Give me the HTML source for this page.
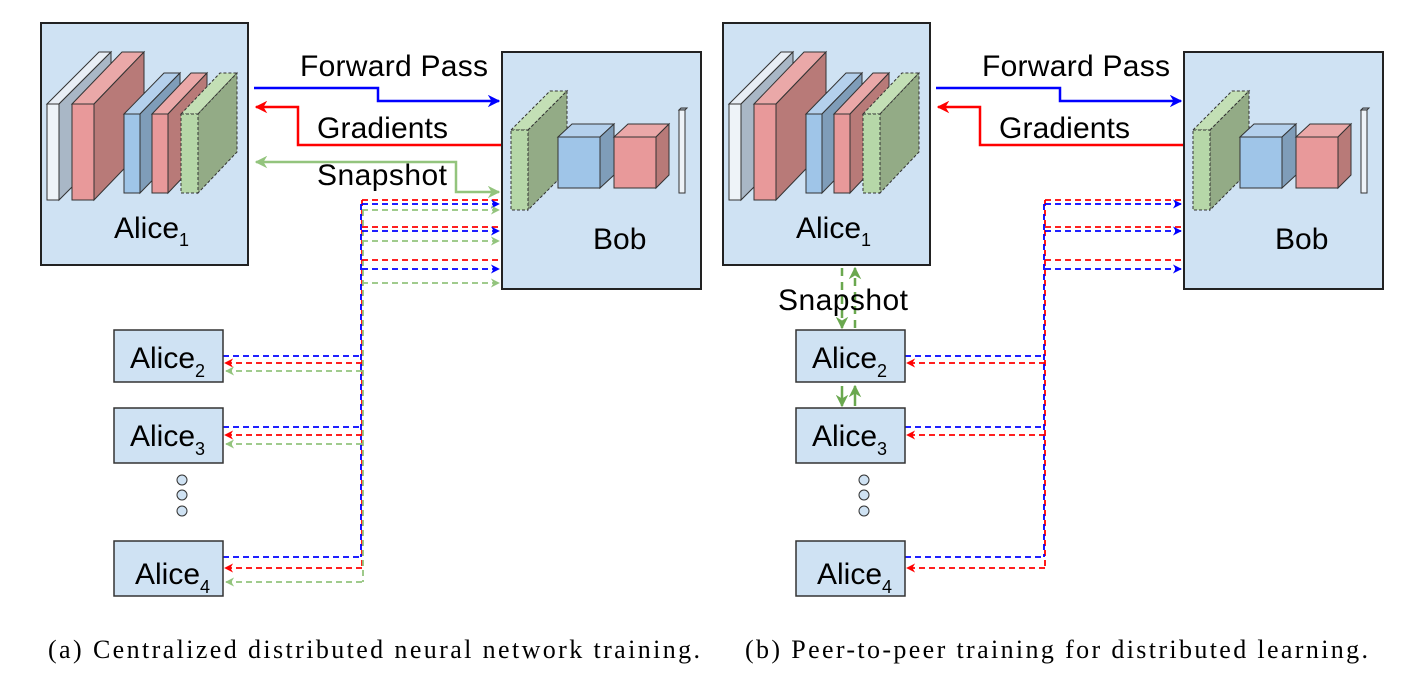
<!DOCTYPE html>
<html><head><meta charset="utf-8"><style>
html,body{margin:0;padding:0;background:#fff;}
svg{display:block;}
text{font-family:"Liberation Sans",sans-serif;fill:#000;}
.cap{font-family:"Liberation Serif",serif;font-size:26px;}
</style></head><body>
<svg width="1412" height="691" viewBox="0 0 1412 691" xmlns="http://www.w3.org/2000/svg">
<defs>
<marker id="ab" viewBox="0 0 10 10" refX="9" refY="5" markerWidth="5" markerHeight="5" orient="auto-start-reverse"><path d="M0,0 L10,5 L0,10 L3,5z" fill="#0000ff"/></marker>
<marker id="ar" viewBox="0 0 10 10" refX="9" refY="5" markerWidth="5" markerHeight="5" orient="auto-start-reverse"><path d="M0,0 L10,5 L0,10 L3,5z" fill="#ff0000"/></marker>
<marker id="ag" viewBox="0 0 10 10" refX="9" refY="5" markerWidth="5" markerHeight="5" orient="auto-start-reverse"><path d="M0,0 L10,5 L0,10 L3,5z" fill="#93c47d"/></marker>
<marker id="ag2" viewBox="0 0 10 10" refX="9" refY="5" markerWidth="5" markerHeight="5" orient="auto-start-reverse"><path d="M0,0 L10,5 L0,10 L3,5z" fill="#6aa84f"/></marker>
<g id="alice1net">
 <polygon points="47,104 99,52 111,52 59,104" fill="#e8eef5" stroke="#333" stroke-width="1"/>
 <polygon points="59,104 111,52 111,148 59,200" fill="#a9b7c6" stroke="#333" stroke-width="1"/>
 <rect x="47" y="104" width="12" height="96" fill="#eef3f8" stroke="#333" stroke-width="1"/>
 <polygon points="72,104 122,52 144,52 94,104" fill="#eaa8a8" stroke="#333" stroke-width="1"/>
 <polygon points="94,104 144,52 144,148 94,200" fill="#b87a78" stroke="#333" stroke-width="1"/>
 <rect x="72" y="104" width="22" height="96" fill="#e8999a" stroke="#333" stroke-width="1"/>
 <polygon points="124,114 164,73 180,73 140,114" fill="#b4d0ec" stroke="#333" stroke-width="1"/>
 <polygon points="140,114 180,73 180,152 140,193" fill="#7f9db9" stroke="#333" stroke-width="1"/>
 <rect x="124" y="114" width="16" height="79" fill="#9fc5e8" stroke="#333" stroke-width="1"/>
 <polygon points="152,114 191,73 207,73 168,114" fill="#eaa8a8" stroke="#333" stroke-width="1"/>
 <polygon points="168,114 207,73 207,152 168,193" fill="#b87a78" stroke="#333" stroke-width="1"/>
 <rect x="152" y="114" width="16" height="79" fill="#e8999a" stroke="#333" stroke-width="1"/>
 <polygon points="181,114 220,73 237,73 198,114" fill="#c3dfb5" stroke="#333" stroke-width="1" stroke-dasharray="3,2"/>
 <polygon points="198,114 237,73 237,152 198,193" fill="#93ab86" stroke="#333" stroke-width="1" stroke-dasharray="3,2"/>
 <rect x="181" y="114" width="17" height="79" fill="#b6d7a8" stroke="#333" stroke-width="1" stroke-dasharray="3,2"/>
</g>
<g id="bobnet">
 <polygon points="511,130 550,91 567,91 528,130" fill="#c3dfb5" stroke="#333" stroke-width="1" stroke-dasharray="3,2"/>
 <polygon points="528,130 567,91 567,171 528,210" fill="#93ab86" stroke="#333" stroke-width="1" stroke-dasharray="3,2"/>
 <rect x="511" y="130" width="17" height="80" fill="#b6d7a8" stroke="#333" stroke-width="1" stroke-dasharray="3,2"/>
 <polygon points="558,137 572,124 614,124 600,137" fill="#b4d0ec" stroke="#333" stroke-width="1"/>
 <polygon points="600,137 614,124 614,175 600,188" fill="#7f9db9" stroke="#333" stroke-width="1"/>
 <rect x="558" y="137" width="42" height="51" fill="#9fc5e8" stroke="#333" stroke-width="1"/>
 <polygon points="614,137 628,124 669,124 656,137" fill="#eaa8a8" stroke="#333" stroke-width="1"/>
 <polygon points="656,137 669,124 669,175 656,188" fill="#b87a78" stroke="#333" stroke-width="1"/>
 <rect x="614" y="137" width="42" height="51" fill="#e8999a" stroke="#333" stroke-width="1"/>
 <polygon points="679,110 681,108 687,108 685,110" fill="#a9b7c6" stroke="#333" stroke-width="1"/>
 <rect x="679" y="110" width="6" height="83" fill="#eef3f8" stroke="#333" stroke-width="1"/>
</g>
</defs>

<!-- PANEL A -->
<rect x="41" y="23" width="207" height="242" fill="#cfe2f3" stroke="#222" stroke-width="2"/>
<use href="#alice1net"/>
<text x="114" y="238" font-size="30">Alice<tspan font-size="18" dy="8">1</tspan></text>
<rect x="502" y="52" width="199" height="237" fill="#cfe2f3" stroke="#222" stroke-width="2"/>
<use href="#bobnet"/>
<text x="593" y="249" font-size="30">Bob</text>

<path d="M254,88 H378 V101 H499" fill="none" stroke="#0000ff" stroke-width="2.5" marker-end="url(#ab)"/>
<text x="300" y="76" font-size="30" textLength="188">Forward Pass</text>
<path d="M501,145 H298 V107 H256" fill="none" stroke="#ff0000" stroke-width="2.5" marker-end="url(#ar)"/>
<text x="317" y="138" font-size="30" textLength="131">Gradients</text>
<path d="M256,162 H456 V192 H499" fill="none" stroke="#93c47d" stroke-width="2.5" marker-start="url(#ag)" marker-end="url(#ag)"/>
<text x="317" y="185" font-size="30" textLength="130">Snapshot</text>

<g fill="none" stroke-width="1.8" stroke-dasharray="6,4">
 <path d="M362,200 V568" stroke="#ff0000"/>
 <path d="M361,204 V557" stroke="#0000ff"/>
 <path d="M363,210 V582" stroke="#93c47d"/>
 <path d="M362,200 H502 M362,227 H502 M362,260 H502" stroke="#ff0000"/>
 <path d="M362,204 H499" stroke="#0000ff" marker-end="url(#ab)"/>
 <path d="M362,231 H499" stroke="#0000ff" marker-end="url(#ab)"/>
 <path d="M362,269 H499" stroke="#0000ff" marker-end="url(#ab)"/>
 <path d="M362,210 H499" stroke="#93c47d" marker-end="url(#ag)"/>
 <path d="M362,241 H499" stroke="#93c47d" marker-end="url(#ag)"/>
 <path d="M362,283 H499" stroke="#93c47d" marker-end="url(#ag)"/>
 <path d="M223,356 H362 M223,427 H362 M223,557 H362" stroke="#0000ff"/>
 <path d="M362,363 H225" stroke="#ff0000" marker-end="url(#ar)"/>
 <path d="M362,435 H225" stroke="#ff0000" marker-end="url(#ar)"/>
 <path d="M362,568 H225" stroke="#ff0000" marker-end="url(#ar)"/>
 <path d="M362,371 H226" stroke="#93c47d" marker-end="url(#ag)"/>
 <path d="M362,444 H226" stroke="#93c47d" marker-end="url(#ag)"/>
 <path d="M362,582 H226" stroke="#93c47d" marker-end="url(#ag)"/>
</g>

<rect x="114" y="330" width="109" height="52" fill="#cfe2f3" stroke="#333" stroke-width="1.5"/>
<text x="130" y="368" font-size="30">Alice<tspan font-size="18" dy="9">2</tspan></text>
<rect x="114" y="408" width="109" height="55" fill="#cfe2f3" stroke="#333" stroke-width="1.5"/>
<text x="130" y="446" font-size="30">Alice<tspan font-size="18" dy="9">3</tspan></text>
<circle cx="182" cy="480" r="5" fill="#cfe2f3" stroke="#333"/>
<circle cx="182" cy="495" r="5" fill="#cfe2f3" stroke="#333"/>
<circle cx="182" cy="511" r="5" fill="#cfe2f3" stroke="#333"/>
<rect x="114" y="541" width="109" height="55" fill="#cfe2f3" stroke="#333" stroke-width="1.5"/>
<text x="135" y="584" font-size="30">Alice<tspan font-size="18" dy="9">4</tspan></text>

<!-- PANEL B -->
<rect x="723" y="23" width="207" height="242" fill="#cfe2f3" stroke="#222" stroke-width="2"/>
<use href="#alice1net" transform="translate(682,0)"/>
<text x="796" y="238" font-size="30">Alice<tspan font-size="18" dy="8">1</tspan></text>
<rect x="1184" y="52" width="199" height="237" fill="#cfe2f3" stroke="#222" stroke-width="2"/>
<use href="#bobnet" transform="translate(682,0)"/>
<text x="1275" y="249" font-size="30">Bob</text>

<path d="M936,88 H1060 V101 H1181" fill="none" stroke="#0000ff" stroke-width="2.5" marker-end="url(#ab)"/>
<text x="982" y="76" font-size="30" textLength="188">Forward Pass</text>
<path d="M1183,145 H980 V107 H938" fill="none" stroke="#ff0000" stroke-width="2.5" marker-end="url(#ar)"/>
<text x="999" y="138" font-size="30" textLength="131">Gradients</text>

<g fill="none" stroke-width="1.8" stroke-dasharray="6,4">
 <path d="M1045,200 V568" stroke="#ff0000"/>
 <path d="M1044,204 V557" stroke="#0000ff"/>
 <path d="M1045,200 H1184 M1045,227 H1184 M1045,260 H1184" stroke="#ff0000"/>
 <path d="M1045,204 H1181" stroke="#0000ff" marker-end="url(#ab)"/>
 <path d="M1045,231 H1181" stroke="#0000ff" marker-end="url(#ab)"/>
 <path d="M1045,269 H1181" stroke="#0000ff" marker-end="url(#ab)"/>
 <path d="M905,356 H1045 M905,427 H1045 M905,557 H1045" stroke="#0000ff"/>
 <path d="M1045,363 H907" stroke="#ff0000" marker-end="url(#ar)"/>
 <path d="M1045,435 H907" stroke="#ff0000" marker-end="url(#ar)"/>
 <path d="M1045,568 H907" stroke="#ff0000" marker-end="url(#ar)"/>
</g>

<g stroke="#6aa84f" stroke-width="2.5" fill="none">
 <path d="M842,268 V328" stroke-dasharray="8,6" marker-end="url(#ag2)"/>
 <path d="M855,328 V268" stroke-dasharray="8,6" marker-end="url(#ag2)"/>
 <path d="M842,386 V406" marker-end="url(#ag2)"/>
 <path d="M855,406 V386" marker-end="url(#ag2)"/>
</g>
<text x="778" y="310" font-size="30" textLength="130">Snapshot</text>

<rect x="796" y="330" width="109" height="52" fill="#cfe2f3" stroke="#333" stroke-width="1.5"/>
<text x="812" y="368" font-size="30">Alice<tspan font-size="18" dy="9">2</tspan></text>
<rect x="796" y="408" width="109" height="55" fill="#cfe2f3" stroke="#333" stroke-width="1.5"/>
<text x="812" y="446" font-size="30">Alice<tspan font-size="18" dy="9">3</tspan></text>
<circle cx="864" cy="480" r="5" fill="#cfe2f3" stroke="#333"/>
<circle cx="864" cy="495" r="5" fill="#cfe2f3" stroke="#333"/>
<circle cx="864" cy="511" r="5" fill="#cfe2f3" stroke="#333"/>
<rect x="796" y="541" width="109" height="55" fill="#cfe2f3" stroke="#333" stroke-width="1.5"/>
<text x="817" y="584" font-size="30">Alice<tspan font-size="18" dy="9">4</tspan></text>

<text class="cap" x="48" y="658" textLength="652">(a) Centralized distributed neural network training.</text>
<text class="cap" x="745" y="658" textLength="623">(b) Peer-to-peer training for distributed learning.</text>
</svg>
</body></html>
